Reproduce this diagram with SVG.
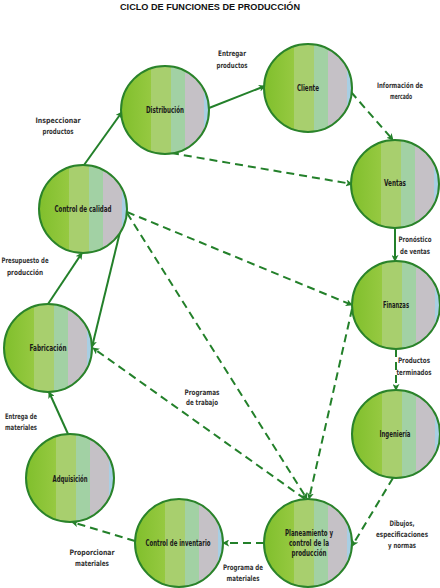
<svg xmlns="http://www.w3.org/2000/svg" width="440" height="588" viewBox="0 0 440 588">
<style>
.node circle{fill:url(#g);stroke:#2a832a;stroke-width:2}
.nt{font-family:"DejaVu Sans Condensed","DejaVu Sans",sans-serif;font-stretch:condensed;font-weight:bold;font-size:9px;fill:#1a1a1a;text-anchor:middle}
.lb{font-family:"DejaVu Sans Condensed","DejaVu Sans",sans-serif;font-stretch:condensed;font-weight:bold;font-size:7.5px;fill:#333333;text-anchor:middle}
.ttl{font-family:"Liberation Sans",Arial,sans-serif;font-weight:bold;font-size:9px;fill:#111;text-anchor:middle}
.c line{stroke:#23802a;stroke-width:2;fill:none}
.c .d{stroke-dasharray:8 5}
</style>
<defs>
<linearGradient id="g" x1="0" y1="0" x2="1" y2="0">
<stop offset="0" stop-color="#80bf2c"/>
<stop offset="0.34" stop-color="#96c941"/>
<stop offset="0.34" stop-color="#a8cf6e"/>
<stop offset="0.57" stop-color="#a8cf6e"/>
<stop offset="0.57" stop-color="#a2d1a4"/>
<stop offset="0.73" stop-color="#a2d1a4"/>
<stop offset="0.73" stop-color="#c5c1c6"/>
<stop offset="0.94" stop-color="#c5c1c6"/>
<stop offset="0.94" stop-color="#a8cfe4"/>
<stop offset="1" stop-color="#a8cfe4"/>
</linearGradient>
<marker id="a" viewBox="0 0 8 8" refX="7" refY="4" markerWidth="7" markerHeight="7" markerUnits="userSpaceOnUse" orient="auto">
<path d="M0,0 L8,4 L0,8 L2,4 z" fill="#23802a"/>
</marker>
</defs>
<text class="ttl" x="210" y="10" textLength="180" lengthAdjust="spacingAndGlyphs">CICLO DE FUNCIONES DE PRODUCCIÓN</text>
<g class="c" id="connectors">
<line x1="209" y1="108" x2="265" y2="86" marker-end="url(#a)"/>
<line class="d" x1="351" y1="92" x2="393" y2="140" marker-end="url(#a)"/>
<line class="d" x1="171" y1="153" x2="352" y2="184" marker-end="url(#a)"/>
<line x1="395" y1="228" x2="395" y2="261" marker-end="url(#a)"/>
<line class="d" x1="396" y1="349" x2="396" y2="390" marker-end="url(#a)"/>
<line class="d" x1="393" y1="478" x2="352" y2="546" marker-end="url(#a)"/>
<line class="d" x1="264" y1="543" x2="223" y2="543" marker-end="url(#a)"/>
<line class="d" x1="135" y1="541" x2="72" y2="522" marker-end="url(#a)"/>
<line x1="68" y1="434" x2="49" y2="392" marker-end="url(#a)"/>
<line x1="48" y1="304" x2="82" y2="253" marker-end="url(#a)"/>
<line x1="84" y1="165" x2="122" y2="112" marker-end="url(#a)"/>
<line x1="120" y1="232" x2="92" y2="347" marker-end="url(#a)"/>
<line class="d" x1="127" y1="212" x2="352" y2="305" marker-end="url(#a)"/>
<line class="d" x1="127" y1="213" x2="307" y2="499" marker-end="url(#a)"/>
<line class="d" x1="352" y1="309" x2="309" y2="499" marker-end="url(#a)"/>
<line class="d" x1="305" y1="499" x2="93" y2="348" marker-end="url(#a)"/>
</g>
<g id="distribucion" class="node"><circle cx="165" cy="110" r="44"/><text class="nt" x="165" y="113" textLength="38" lengthAdjust="spacingAndGlyphs">Distribución</text></g>
<g id="cliente" class="node"><circle cx="308" cy="88" r="44"/><text class="nt" x="308" y="91" textLength="22" lengthAdjust="spacingAndGlyphs">Cliente</text></g>
<g id="ventas" class="node"><circle cx="395" cy="184" r="44"/><text class="nt" x="395" y="186" textLength="22" lengthAdjust="spacingAndGlyphs">Ventas</text></g>
<g id="control-calidad" class="node"><circle cx="83" cy="209" r="44"/><text class="nt" x="83" y="212" textLength="57" lengthAdjust="spacingAndGlyphs">Control de calidad</text></g>
<g id="fabricacion" class="node"><circle cx="48" cy="348" r="44"/><text class="nt" x="48" y="351" textLength="37" lengthAdjust="spacingAndGlyphs">Fabricación</text></g>
<g id="finanzas" class="node"><circle cx="396" cy="305" r="44"/><text class="nt" x="396" y="308" textLength="26" lengthAdjust="spacingAndGlyphs">Finanzas</text></g>
<g id="ingenieria" class="node"><circle cx="396" cy="434" r="44"/><text class="nt" x="395" y="437" textLength="31" lengthAdjust="spacingAndGlyphs">Ingeniería</text></g>
<g id="adquisicion" class="node"><circle cx="70" cy="478" r="44"/><text class="nt" x="70" y="482" textLength="35" lengthAdjust="spacingAndGlyphs">Adquisición</text></g>
<g id="control-inventario" class="node"><circle cx="179" cy="543" r="44"/><text class="nt" x="178" y="546" textLength="65" lengthAdjust="spacingAndGlyphs">Control de inventario</text></g>
<g id="planeamiento" class="node"><circle cx="308" cy="543" r="44"/>
<text class="nt" x="309" y="536" textLength="48" lengthAdjust="spacingAndGlyphs">Planeamiento y</text>
<text class="nt" x="309" y="546" textLength="40" lengthAdjust="spacingAndGlyphs">control de la</text>
<text class="nt" x="309" y="556" textLength="35" lengthAdjust="spacingAndGlyphs">producción</text></g>
<g id="labels">
<text class="lb" x="232" y="56" textLength="28" lengthAdjust="spacingAndGlyphs">Entregar</text>
<text class="lb" x="232" y="68" textLength="31" lengthAdjust="spacingAndGlyphs">productos</text>
<text class="lb" x="400" y="88" textLength="46" lengthAdjust="spacingAndGlyphs">Información de</text>
<text class="lb" x="401" y="99" textLength="22" lengthAdjust="spacingAndGlyphs">mercado</text>
<text class="lb" x="58" y="123" textLength="45" lengthAdjust="spacingAndGlyphs">Inspeccionar</text>
<text class="lb" x="58" y="134" textLength="31" lengthAdjust="spacingAndGlyphs">productos</text>
<text class="lb" x="25" y="263" textLength="47" lengthAdjust="spacingAndGlyphs">Presupuesto de</text>
<text class="lb" x="25" y="275" textLength="36" lengthAdjust="spacingAndGlyphs">producción</text>
<text class="lb" x="415" y="242" textLength="33" lengthAdjust="spacingAndGlyphs">Pronóstico</text>
<text class="lb" x="415" y="254" textLength="30" lengthAdjust="spacingAndGlyphs">de ventas</text>
<text class="lb" x="414" y="363" textLength="32" lengthAdjust="spacingAndGlyphs">Productos</text>
<text class="lb" x="414" y="375" textLength="35" lengthAdjust="spacingAndGlyphs">terminados</text>
<text class="lb" x="402" y="526" textLength="25" lengthAdjust="spacingAndGlyphs">Dibujos,</text>
<text class="lb" x="402" y="537" textLength="52" lengthAdjust="spacingAndGlyphs">especificaciones</text>
<text class="lb" x="402" y="548" textLength="28" lengthAdjust="spacingAndGlyphs">y normas</text>
<text class="lb" x="202" y="395" textLength="35" lengthAdjust="spacingAndGlyphs">Programas</text>
<text class="lb" x="202" y="405" textLength="32" lengthAdjust="spacingAndGlyphs">de trabajo</text>
<text class="lb" x="21" y="419" textLength="32" lengthAdjust="spacingAndGlyphs">Entrega de</text>
<text class="lb" x="21" y="430" textLength="32" lengthAdjust="spacingAndGlyphs">materiales</text>
<text class="lb" x="92" y="555" textLength="45" lengthAdjust="spacingAndGlyphs">Proporcionar</text>
<text class="lb" x="92" y="566" textLength="34" lengthAdjust="spacingAndGlyphs">materiales</text>
<text class="lb" x="243" y="570" textLength="40" lengthAdjust="spacingAndGlyphs">Programa de</text>
<text class="lb" x="243" y="581" textLength="33" lengthAdjust="spacingAndGlyphs">materiales</text>
</g>
</svg>
